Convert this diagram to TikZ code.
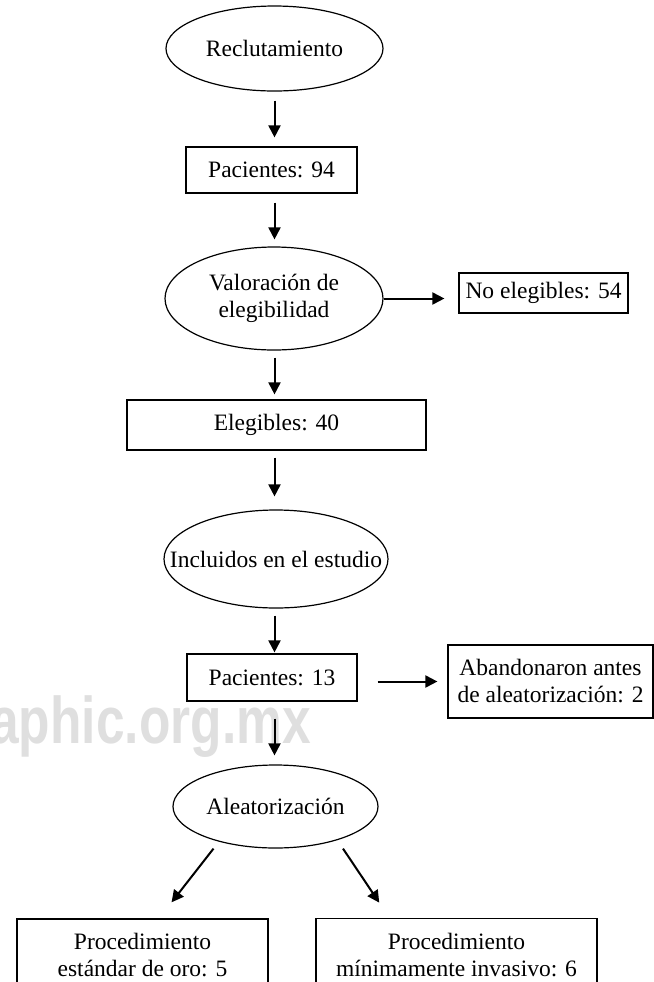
\documentclass[tikz,border=0pt]{standalone}
\usepackage{fontspec}
\setmainfont{Liberation Serif}
\newfontfamily\marcafont{Liberation Sans}
\usetikzlibrary{shapes.geometric,arrows.meta}

\begin{document}
\begin{tikzpicture}[x=0.5pt,y=-0.5pt,
    font=\fontsize{11.75}{13.5}\selectfont,
    caja/.style 2 args={draw, rectangle, line width=0.6pt, minimum width=#1, minimum height=#2, inner sep=0pt, align=center},
    ovalo/.style 2 args={draw, ellipse, line width=0.6pt, minimum width=#1, minimum height=#2, inner xsep=-40pt, inner ysep=0pt, align=center},
    flecha/.style={-{Triangle[length=6pt,width=6pt]}, line width=1pt}]
    \useasboundingbox (0,0) rectangle (654,982);
    \clip (0,0) rectangle (654,982);
    % marca de agua
    \node[anchor=base east, inner sep=0pt, text=gray!25, xscale=0.78,
          font=\marcafont\bfseries\fontsize{33}{33}\selectfont] (marca) at (311,743) {aphic.org.mx};
    % nodos
    \node[ovalo={108.5pt}{42.5pt}] (recl) at (274.5,48.5) {Reclutamiento};
    \node[caja={85.5pt}{23pt}] (pac94) at (271.5,170) {Pacientes: 94};
    \node[ovalo={109pt}{51.5pt}] (valor) at (274,298.5) {Valoración de\\elegibilidad};
    \node[caja={84.5pt}{20pt}] (noeleg) at (543.5,293) {No elegibles: 54};
    \node[caja={149.5pt}{25pt}] (eleg) at (276.5,425) {Elegibles: 40};
    \node[ovalo={112pt}{49pt}] (incl) at (276,559) {Incluidos en el estudio};
    \node[caja={85pt}{23.5pt}] (pac13) at (272,677.5) {Pacientes: 13};
    \node[caja={102.5pt}{36.5pt}] (aband) at (550.5,681.5) {Abandonaron antes\\de aleatorización: 2};
    \node[ovalo={102.5pt}{41.5pt}] (alea) at (275.5,806.5) {Aleatorización};
    \node[caja={125.5pt}{36.5pt}] (proc1) at (142.5,955.5) {Procedimiento\\estándar de oro: 5};
    \node[caja={140.5pt}{36.5pt}] (proc2) at (456.5,955) {Procedimiento\\mínimamente invasivo: 6};
    % flechas
    \draw[flecha, shorten <=4.5pt, shorten >=4.5pt] (recl.south) -- (recl.south |- pac94.north);
    \draw[flecha, shorten <=4.5pt, shorten >=3.5pt] (recl.south |- pac94.south) -- (recl.south |- valor.north);
    \draw[flecha, shorten <=3.5pt, shorten >=2.5pt] (recl.south |- valor.south) -- (recl.south |- eleg.north);
    \draw[flecha, shorten <=3.5pt, shorten >=6.5pt] (recl.south |- eleg.south) -- (recl.south |- incl.north);
    \draw[flecha, shorten <=3.5pt, shorten >=0.5pt] (recl.south |- incl.south) -- (recl.south |- pac13.north);
    \draw[flecha, shorten <=8.5pt, shorten >=4.5pt] (recl.south |- pac13.south) -- (recl.south |- alea.north);
    \draw[flecha, shorten >=7pt] (valor.east) -- (valor.east -| noeleg.west);
    \draw[flecha, shorten <=10pt, shorten >=5pt] (pac13.east |- aband.west) -- (aband.west);
    \draw[flecha, shorten >=10.2pt] ([xshift=-31pt]alea.south) -- ([xshift=8.25pt]proc1.north);
    \draw[flecha, shorten >=9.2pt] ([xshift=33.75pt]alea.south) -- ([xshift=-33.5pt]proc2.north);
\end{tikzpicture}
\end{document}
